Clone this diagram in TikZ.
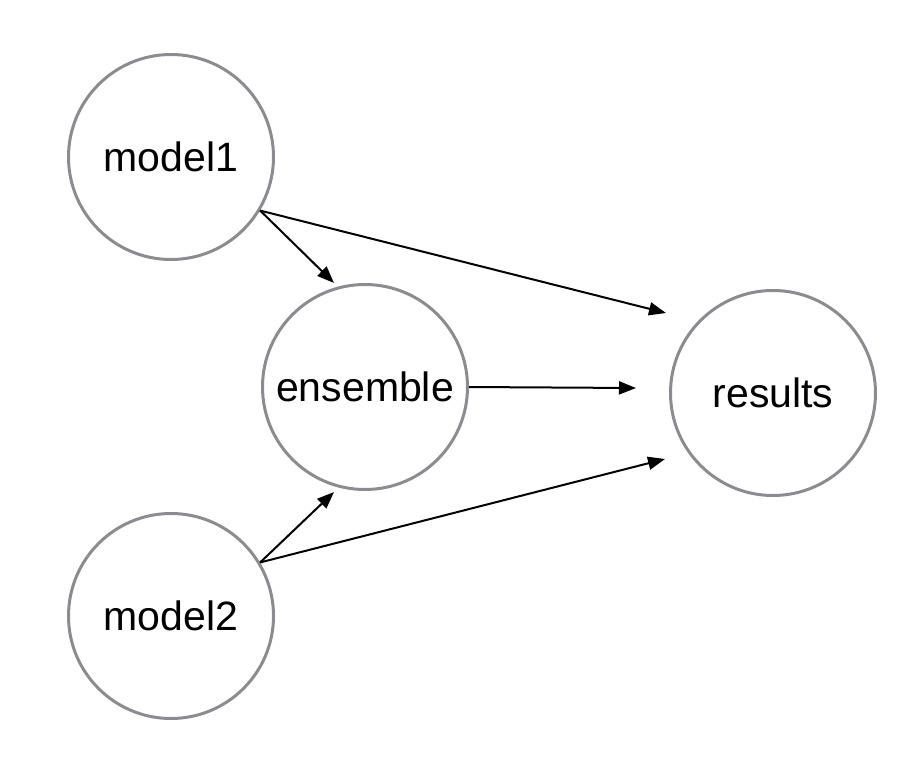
\documentclass[tikz,border=0pt]{standalone}
\usepackage{fontspec}
\setmainfont{Liberation Sans}
\usetikzlibrary{arrows.meta,positioning}
\definecolor{ringgray}{HTML}{8C8C90}

\begin{document}
\begin{tikzpicture}[x=1pt,y=-1pt,
    stage/.style={circle,draw=ringgray,line width=3pt,minimum size=205pt,inner sep=0pt,font=\fontsize{41}{48}\selectfont},
    flow/.style={line width=2pt,-{Triangle[length=17pt,width=13pt]}}]
    \useasboundingbox (0,0) rectangle (924,774);

    % the four stages
    \node[stage] (model1) at (171,157) {model1};
    \node[stage] (ensemble) at (365,387) {ensemble};
    \node[stage] (results) at (773,393) {results};
    \node[stage] (model2) at (171,616) {model2};

    % arrow tips stop short of the circles
    \coordinate (tipE1) at (334,283);
    \coordinate (tipR1) at (666,313);
    \coordinate (tipR0) at (636,388);
    \coordinate (tipE2) at (334,492);
    \coordinate (tipR2) at (665,459);

    \draw[flow] (model1.-31) -- (tipE1);
    \draw[flow] (model1.-31) -- (tipR1);
    \draw[flow] (ensemble.east) -- (tipR0);
    \draw[flow] (model2.31) -- (tipE2);
    \draw[flow] (model2.31) -- (tipR2);
\end{tikzpicture}
\end{document}
